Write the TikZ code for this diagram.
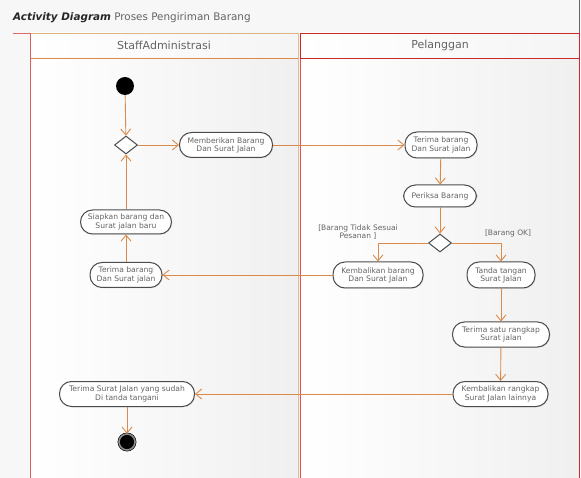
\documentclass[tikz,border=0pt]{standalone}
\usepackage{fontspec}
\setmainfont{DejaVu Sans}
\usetikzlibrary{arrows.meta,shapes.geometric,shadows}

\definecolor{flow}{RGB}{218,138,74}
\definecolor{lanered}{RGB}{206,40,40}
\definecolor{lanetan}{RGB}{222,180,130}
\definecolor{txt}{RGB}{100,100,100}

\tikzset{
  act/.style={draw=black!70, line width=1pt, fill=white, rounded corners=12pt,
    minimum height=25pt, inner sep=1pt, align=center, text=txt,
    font=\fontsize{7.6}{8.2}\selectfont,
    drop shadow={shadow xshift=0.8pt, shadow yshift=-0.8pt, opacity=0.2, fill=black!40}},
  choice/.style={diamond, draw=black!70, line width=1pt, fill=white,
    minimum width=23pt, minimum height=18pt, inner sep=0pt},
  flowline/.style={draw=flow, line width=0.9pt},
  flowarrow/.style={flowline, -{Straight Barb[length=6pt,width=10pt,line width=0.9pt]}},
  guard/.style={text=txt, align=center, font=\fontsize{7.5}{8.5}\selectfont},
  lanehead/.style={text=txt, font=\fontsize{11}{12}\selectfont}
}

\begin{document}
\begin{tikzpicture}[x=1pt,y=-1pt]
\useasboundingbox (0,0) rectangle (581,478);

% background
\fill[black!3] (0,0) rectangle (581,478);
\shade[left color=white, right color=black!6] (30,33) rectangle (299,478);
\shade[left color=white, right color=black!6] (300,33) rectangle (579,478);
\shade[left color=white, right color=black!4] (30,33) rectangle (299,58);
\shade[left color=white, right color=black!4] (300,33) rectangle (579,58);

% title
\node (title) [anchor=west, inner sep=0pt, font=\fontsize{10.4}{12}\selectfont]
  at (13,18) {\textcolor{black!85}{\textbf{\textit{Activity Diagram}}} \textcolor{txt}{Proses Pengiriman Barang}};

% swimlanes
\draw[lanered!70, line width=0.8pt] (13,33) -- (30,33);
\draw[lanetan, line width=0.8pt] (30,33) -- (299,33);
\draw[flow, line width=0.8pt] (30,58) -- (298,58);
\draw[lanered!75, line width=1pt] (30,33) -- (30,478);
\draw[flow!60, line width=0.6pt] (298,33) -- (298,478);
\draw[lanered!80, line width=1pt] (300.5,33) -- (300.5,478);
\draw[lanered, line width=0.8pt] (300,33) rectangle (579,58);
\draw[lanered, line width=1pt] (579,33) -- (579,478);
\draw[black!60, line width=0.6pt] (579.5,0) -- (579.5,33);
\node (laneA) [lanehead] at (164,45.5) {StaffAdministrasi};
\node (laneB) [lanehead] at (440,45.5) {Pelanggan};

% activities, StaffAdministrasi
\node (start) [circle, fill=black, minimum size=18pt, inner sep=0pt] at (125,86) {};
\node (d1) [choice] at (126,145) {};
\node (kirim) [act, minimum width=93pt] at (226,145) {Memberikan Barang\\Dan Surat Jalan};
\node (siapkan) [act, minimum width=91pt, minimum height=24pt] at (126,222) {Siapkan barang dan\\Surat jalan baru};
\node (terimaA) [act, minimum width=72pt] at (126,275) {Terima barang\\Dan Surat jalan};
\node (terimaTtd) [act, minimum width=135pt] at (127,394) {Terima Surat Jalan yang sudah\\Di tanda tangani};
\node (end) [circle, fill=black, draw=black, double=black!45, double distance=1.6pt,
  line width=0.6pt, minimum size=16pt, inner sep=0pt] at (127,442) {};

% activities, Pelanggan
\node (terimaB) [act, minimum width=72pt, minimum height=26pt] at (441,145) {Terima barang\\Dan Surat jalan};
\node (periksa) [act, minimum width=73pt, minimum height=22pt] at (440,196) {Periksa Barang};
\node (d2) [choice] at (440,243) {};
\node (kembali) [act, minimum width=90pt, minimum height=26pt] at (378,275) {Kembalikan barang\\Dan Surat Jalan};
\node (ttd) [act, minimum width=68pt, minimum height=26pt] at (501,275) {Tanda tangan\\Surat Jalan};
\node (satu) [act, minimum width=97pt] at (501,334.5) {Terima satu rangkap\\Surat jalan};
\node (rangkap) [act, minimum width=95pt] at (500.5,394) {Kembalikan rangkap\\Surat Jalan lainnya};

% guards
\node (gNo) [guard] at (358,232) {[Barang Tidak Sesuai\\Pesanan ]};
\node (gOk) [guard] at (508,233) {[Barang OK]};

% flows
\draw[flowarrow] (start) -- (d1);
\draw[flowarrow] (d1) -- (kirim);
\draw[flowarrow] (kirim) -- (terimaB);
\draw[flowarrow] (terimaB) -- (periksa);
\draw[flowarrow] (periksa) -- (d2);
\draw[flowarrow] (d2.west) -| (kembali.north);
\draw[flowarrow] (d2.east) -| (ttd.north);
\draw[flowarrow] (kembali) -- (terimaA);
\draw[flowarrow] (terimaA) -- (siapkan);
\draw[flowarrow] (siapkan) -- (d1);
\draw[flowarrow] (ttd) -- (satu);
\draw[flowarrow] (satu) -- (rangkap);
\draw[flowarrow] (rangkap) -- (terimaTtd);
\draw[flowarrow] (terimaTtd) -- (end);
\end{tikzpicture}
\end{document}
